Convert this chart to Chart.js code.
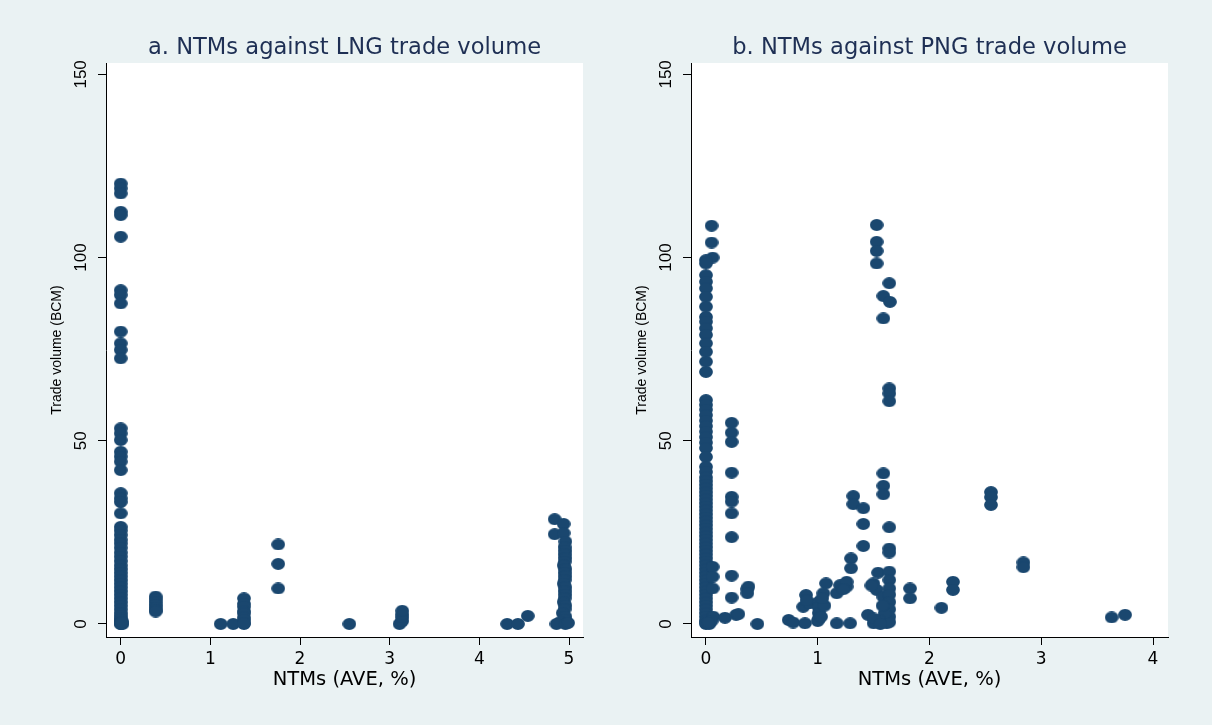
<!DOCTYPE html>
<html><head><meta charset="utf-8">
<script src="https://cdn.jsdelivr.net/npm/chart.js@4.4.1/dist/chart.umd.min.js"></script>
<style>
html,body{margin:0;padding:0;background:#eaf2f3;}
body{width:1212px;height:725px;position:relative;overflow:hidden;}
canvas{position:absolute;top:0;}
#c1{left:0;width:606px;height:725px;}
#c2{left:585px;width:627px;height:725px;}
</style></head><body>
<canvas id="c1" width="606" height="725"></canvas>
<canvas id="c2" width="627" height="725"></canvas>
<script>
// ---------- DATA ----------
const TITLE_A = 'a. NTMs against LNG trade volume';
const TITLE_B = 'b. NTMs against PNG trade volume';
const X_TITLE = 'NTMs (AVE, %)';
const Y_TITLE = 'Trade volume (BCM)';
const Y_TICKS = [0, 50, 100, 150];
const X_TICKS_A = [0, 1, 2, 3, 4, 5];
const X_TICKS_B = [0, 1, 2, 3, 4];

// Panel a: LNG
const lngX = [
  0,0,0,0,0,0,0,0,0,0,0,0,0,0,0,0,0,0,0,0,0,0,0,0,0,0,0,0,0,0,0,0,0,0,0,0,0,0,0,0,0,0,0,0,0,0,0,0,0,0,0,0,0,0,0.02,0.02,
  0.39,0.39,0.39,0.39,0.39,0.39,0.39,
  1.115,1.255,1.375,1.375,1.375,1.375,1.375,1.375,1.375,1.375,1.375,
  1.757,1.757,1.757,
  2.55,
  3.11,3.14,3.14,3.14,3.14,
  4.31,4.43,4.54,
  4.84,4.94,4.84,4.94,4.96,4.95,4.96,4.95,4.96,4.95,4.94,4.96,4.95,4.96,4.95,4.94,4.96,4.95,4.96,4.95,4.94,4.96,4.95,4.93,4.96,4.95,4.90,4.86,4.96,4.99
];
const lngY = [
  120.2,118.9,117.5,112.5,111.6,105.7,91.1,89.8,87.5,79.8,76.6,74.8,72.5,53.4,52,50.2,47,45.7,44.3,42,35.7,34.3,33.3,30.2,26.5,25.5,24.3,23,22,20.8,19.5,18.4,17.2,16,15,14,13,12,11,10,9,8,7,6,5,4,3,2.2,1.5,1,0.6,0.3,0.1,0,0,0.5,
  7.5,6.8,6,5.2,4.5,3.8,3.4,
  0,0,7.0,5.5,4.7,3.5,2.9,1.8,1.1,0.3,0,
  21.7,16.4,9.7,
  0,
  0,0.8,1.8,2.6,3.6,
  0,0,2.2,
  28.6,27.3,24.5,24.8,22.5,21,20,19,18,17,16,15,14,13,12,11,10,9,8,7,6,5,4,3,2,1.2,0.5,0,0,0.3
];

// Panel b: PNG
const pngX = [
  0.05,0.05,0.06,0,0,0,0,0,0,0,0,0,0,0,0,0,0,0,
  0,0,0,0,0,0,0,0,0,0,0,0,
  0,0,0,0,0,0,0,0,0,0,0,0,0,0,0,0,0,0,0,0,0,0,0,0,0,0,0,0,0,0,0,0,0,0,0,0,0,0,0,0,0,0,0,
  0.06,0.06,0.06,0.065,0.03,0.05,0.02,
  0.23,0.23,0.23,0.23,0.23,0.23,0.23,0.23,0.23,0.23,
  0.17,0.27,0.29,0.37,0.38,0.37,0.46,
  0.74,0.78,0.886,0.895,0.87,0.93,0.90,
  1.01,1.01,1.01,1.01,1.0,1.05,1.074,1.03,1.06,1.04,
  1.17,1.17,1.2,1.259,1.259,1.23,1.29,1.298,1.298,1.318,1.318,1.408,1.408,1.408,
  1.45,1.5,1.617,1.497,1.527,1.587,1.54,
  1.527,1.527,1.527,1.527,1.64,1.587,1.646,1.587,1.64,1.64,1.64,1.587,1.587,1.587,
  1.64,1.64,1.64,1.64,1.64,1.64,1.64,1.64,1.64,1.64,1.64,1.6,1.58,1.55,1.5,1.48,1.56,
  1.826,1.826,2.107,2.21,2.21,2.55,2.55,2.55,2.84,2.84,3.63,3.75
];
const pngY = [
  108.7,104.1,100,99.3,98.4,95.2,93.4,91.6,89.3,86.6,83.8,82.5,80.7,78.9,76.6,74.3,71.6,68.8,
  61.1,59.8,58.5,57,55.5,54,52.5,51,49.5,48,45.6,42.9,
  41.5,40,39,38,37,36,35,34,33,32,31,30,29,28,27,26,25,24,23,22,21,20,19,18,17,16,15,14,13,12,11,10,9,8,7,6,5,4,3,2,1,0.5,0,
  15.6,12.9,9.7,2,0,0.8,0.3,
  54.9,52.2,49.7,41.3,34.7,33.4,30.2,23.7,13.2,7.2,
  1.7,2.5,2.7,9.5,10.2,8.4,0,
  1.1,0.4,0.2,7.9,4.7,5.6,6.5,
  6,4.5,3,1.5,0.8,8.4,11.1,2,5,7,
  8.4,0.2,10.6,10.2,11.5,9.5,0.2,17.9,15.2,34.9,32.7,31.6,27.3,21.3,
  2.5,0.2,0.2,11.1,9.3,7.4,14,
  108.9,104.3,101.8,98.4,93,89.5,87.9,83.4,64.3,62.9,60.8,41.1,37.7,35.4,
  26.4,20.6,19.5,14.3,12,9.7,8,6,4,2,0.5,3,5,1,1.5,10.5,0,
  9.7,7.0,4.4,11.5,9.3,36,34.6,32.5,16.8,15.5,1.8,2.5
];

// ---------- STYLE ----------
const NAVY = '#1a476f';
const TITLE_COLOR = '#1e2f54';
const dot = document.createElement('canvas');
dot.width = 14; dot.height = 12;
(function(){ const g = dot.getContext('2d'); g.fillStyle = NAVY; g.beginPath();
  g.ellipse(7, 6, 6.9, 5.9, 0, 0, 2*Math.PI); g.fill(); })();

const whiteArea = {
  id: 'whiteArea',
  beforeDraw(chart) {
    const {ctx, chartArea: a} = chart;
    ctx.save(); ctx.fillStyle = '#ffffff';
    ctx.fillRect(a.left, a.top, a.right - a.left, a.bottom - a.top);
    ctx.restore();
  }
};

function makeChart(id, title, xs, ys, xTicks, xMin, xMax, padRight) {
  const pts = xs.map((x, i) => ({x: x, y: ys[i]}));
  return new Chart(document.getElementById(id), {
    type: 'scatter',
    data: { datasets: [{ data: pts, pointStyle: dot, pointRadius: 6.5, backgroundColor: NAVY, borderWidth: 0 }] },
    options: {
      responsive: false, animation: false, devicePixelRatio: 1,
      layout: { padding: { left: 0, right: padRight, top: 0, bottom: 0 } },
      plugins: {
        legend: { display: false }, tooltip: { enabled: false },
        title: { display: true, text: title, fullSize: false, color: TITLE_COLOR,
          font: { family: 'DejaVu Sans', size: 22.6, weight: 'normal', lineHeight: 1.2 },
          padding: { top: 34.6, bottom: 1.3 } }
      },
      scales: {
        x: {
          type: 'linear', position: 'bottom', min: xMin, max: xMax,
          afterBuildTicks: s => { s.ticks = xTicks.map(v => ({value: v})); },
          afterFit: s => { s.height = 88; },
          grid: { display: true, drawOnChartArea: false, drawTicks: true, tickLength: 8, color: '#000', lineWidth: 1 },
          border: { display: true, color: '#000', width: 1 },
          ticks: { color: '#000', padding: 4.8, maxRotation: 0, minRotation: 0, autoSkip: false,
            font: { family: 'DejaVu Sans', size: 17 }, callback: v => String(v) },
          title: { display: true, text: X_TITLE, color: '#000',
            font: { family: 'DejaVu Sans', size: 19.5, lineHeight: 1.2 }, padding: { top: 0, bottom: 33 } }
        },
        y: {
          type: 'linear', position: 'left', min: -3.55, max: 153.1,
          afterBuildTicks: s => { s.ticks = Y_TICKS.map(v => ({value: v})); },
          afterFit: s => { s.width = 106; },
          grid: { display: true, drawOnChartArea: false, drawTicks: true, tickLength: 8, color: '#000', lineWidth: 1 },
          border: { display: true, color: '#000', width: 1 },
          ticks: { color: '#000', padding: 2.3, minRotation: 90, maxRotation: 90, crossAlign: 'center', autoSkip: false,
            font: { family: 'Liberation Sans', size: 17 }, callback: v => String(v) },
          title: { display: true, text: Y_TITLE, color: '#000',
            font: { family: 'Liberation Sans', size: 14, lineHeight: 1.2 }, padding: { top: 48.6, bottom: 0 } }
        }
      }
    },
    plugins: [whiteArea]
  });
}

makeChart('c1', TITLE_A, lngX, lngY, X_TICKS_A, -0.164, 5.156, 23);
makeChart('c2', TITLE_B, pngX, pngY, X_TICKS_B, -0.134, 4.134, 44);
</script></body></html>
